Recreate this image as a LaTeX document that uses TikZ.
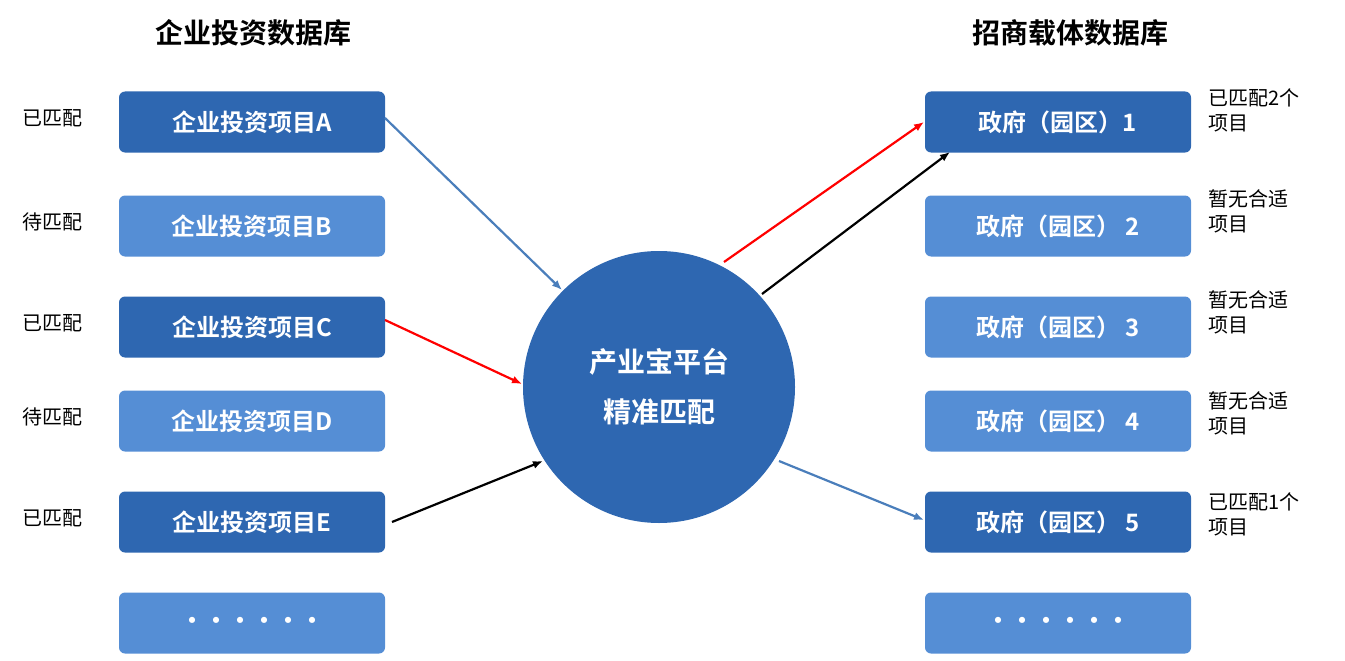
\documentclass[tikz,border=0pt]{standalone}
\usepackage{fontspec}
\setmainfont{Noto Sans CJK SC}
\newfontfamily\cjkb{Noto Sans CJK SC Bold}
\definecolor{dk}{HTML}{2E67B1}
\definecolor{lt}{HTML}{558ED5}
\definecolor{ln}{HTML}{4A7EBB}
\begin{document}
\begin{tikzpicture}[x=1pt,y=-1pt,
  bx/.style={rounded corners=6pt,minimum width=266pt,minimum height=61pt,text=white,font=\cjkb\fontsize{24}{28}\selectfont,inner sep=0pt},
  lab/.style={font=\fontsize{20}{24}\selectfont,inner sep=0pt},
  rl/.style={lab,anchor=north west,align=left,font=\fontsize{20}{25}\selectfont},
  ar/.style={line width=2.2pt,-{Latex[length=10pt,width=8pt]}}]
\useasboundingbox (0,0) rectangle (1345,661);
\usetikzlibrary{arrows.meta}
\node[font=\cjkb\fontsize{28}{32}\selectfont] (t1) at (253,33) {企业投资数据库};
\node[font=\cjkb\fontsize{28}{32}\selectfont] (t2) at (1070,33) {招商载体数据库};
\foreach \n/\y/\c/\t/\l in {A/122/dk/企业投资项目A/已匹配,B/226/lt/企业投资项目B/待匹配,C/327/dk/企业投资项目C/已匹配,D/421/lt/企业投资项目D/待匹配,E/522/dk/企业投资项目E/已匹配}{
  \node[bx,fill=\c] (\n) at (252,\y) {\t};
  \node[lab] (l\n) at (53,\y-4) {\l};
}
\node[bx,fill=lt] (L6) at (252,623) {••••••};
\foreach \n/\y/\c/\t in {1/122/dk/政府（园区）1,2/226/lt/政府（园区） 2,3/327/lt/政府（园区） 3,4/421/lt/政府（园区） 4,5/522/dk/政府（园区） 5}{
  \node[bx,fill=\c] (R\n) at (1058,\y) {\t};
}
\node[bx,fill=lt] (R6) at (1058,623) {••••••};
\node[rl] (r1) at (1208,88) {已匹配2个\\项目};
\node[rl] (r2) at (1208,189) {暂无合适\\项目};
\node[rl] (r3) at (1208,290) {暂无合适\\项目};
\node[rl] (r4) at (1208,391) {暂无合适\\项目};
\node[rl] (r5) at (1208,492) {已匹配1个\\项目};
\node[circle,fill=dk,minimum size=272pt,text=white,align=center,font=\cjkb\fontsize{28}{50}\selectfont] (C0) at (659,387) {产业宝平台\\精准匹配};
\coordinate (a1) at (385,118); \coordinate (a2) at (562,290);
\coordinate (c1) at (385,320); \coordinate (c2) at (522,384);
\coordinate (e1) at (392,522); \coordinate (e2) at (543,461);
\coordinate (o1) at (724,262); \coordinate (o2) at (924,122);
\coordinate (p1) at (762,294); \coordinate (p2) at (950,152);
\coordinate (q1) at (779,461); \coordinate (q2) at (924,520);
\draw[ar,ln] (a1) -- (a2);
\draw[ar,red] (c1) -- (c2);
\draw[ar,black] (e1) -- (e2);
\draw[ar,red] (o1) -- (o2);
\draw[ar,black] (p1) -- (p2);
\draw[ar,ln] (q1) -- (q2);
\end{tikzpicture}
\end{document}
